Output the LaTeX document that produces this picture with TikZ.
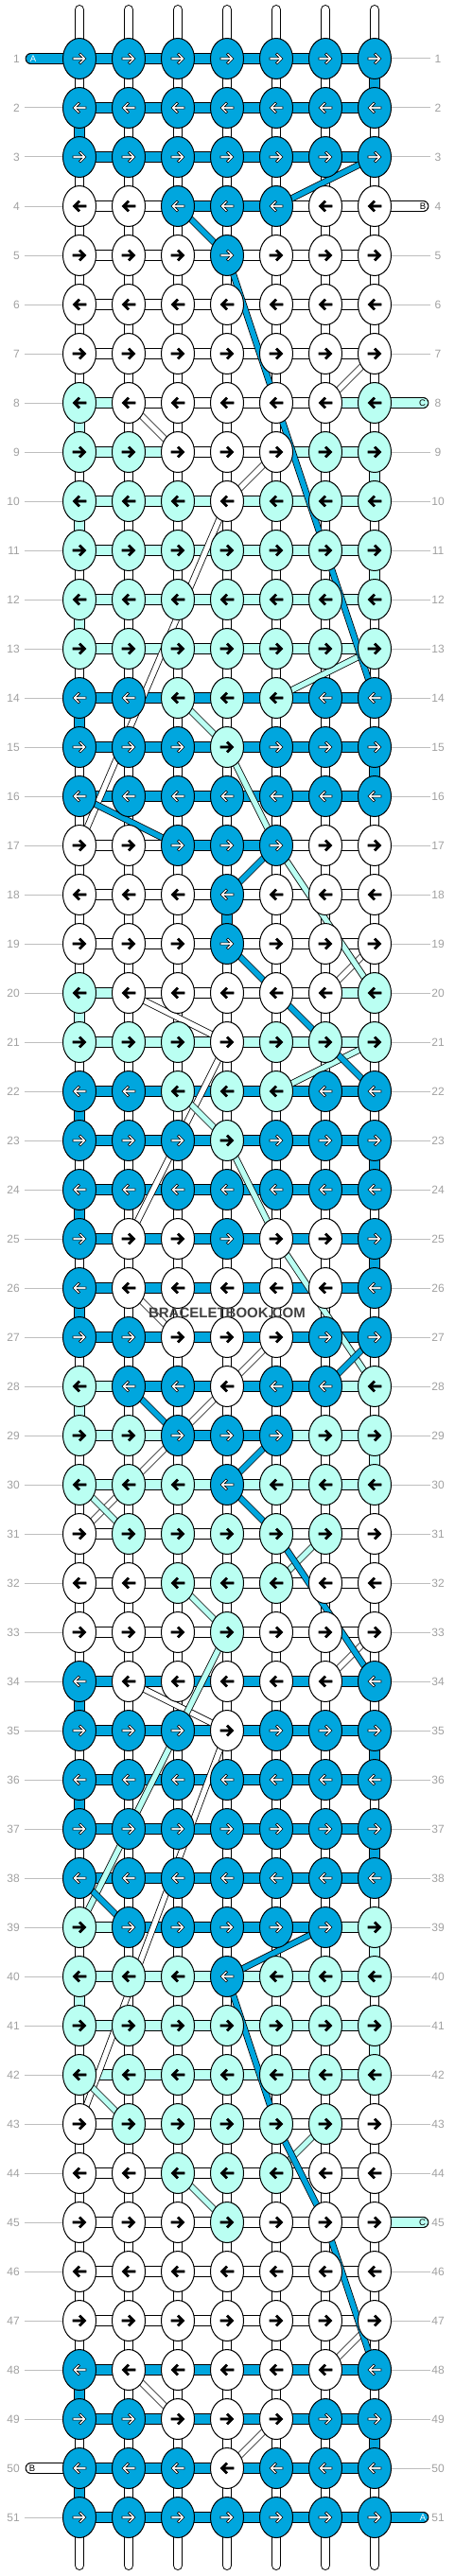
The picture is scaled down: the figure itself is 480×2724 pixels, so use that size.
\documentclass[tikz,border=0pt]{standalone}
\usepackage{fontspec}
\setmainfont{Liberation Sans}
\setsansfont{Liberation Sans}
\usetikzlibrary{shapes.geometric}
\usetikzlibrary{positioning}
\definecolor{colA}{RGB}{0,166,222}
\definecolor{colC}{RGB}{186,255,242}
\definecolor{rowgray}{RGB}{160,160,160}
\definecolor{guidegray}{RGB}{190,190,190}
\definecolor{groovegray}{RGB}{175,175,175}
\definecolor{markgray}{RGB}{64,64,64}
\pgfdeclarelayer{bg}
\pgfsetlayers{bg,main}
\newcommand\readknots[7]{\def\ka{#1}\def\kb{#2}\def\kc{#3}\def\kd{#4}\def\ke{#5}\def\kf{#6}\def\kg{#7}}
\newcommand\readcords[6]{\def\ha{#1}\def\hb{#2}\def\hc{#3}\def\hd{#4}\def\he{#5}\def\hf{#6}}
\tikzset{x=1pt, y=-1pt,
    knot/.style={
        ellipse,
        draw,
        line width=1pt,
        minimum width=35pt,
        minimum height=43pt,
        inner sep=0pt},
    cord/.style={
        draw=black,
        line width=1pt,
        double distance=9.7pt},
    carry/.style={
        draw=black,
        line width=0.8pt,
        double distance=5.4pt},
    bracestring/.style={
        draw=black,
        line width=1pt,
        double=white,
        double distance=8.7pt,
        line cap=round},
    groove/.style={
        draw=groovegray,
        line width=0.6pt,
        double=white,
        double distance=3.4pt},
    guide/.style={draw=guidegray, line width=1pt},
    rowno/.style={text=rowgray, font=\fontsize{12}{12}\selectfont, inner sep=0pt},
    tailtext/.style={font=\fontsize{9.5}{9.5}\selectfont, inner sep=0pt},
    pics/knotarrow/.style 2 args={code={
        \filldraw[fill=#1, draw=black, line width=0.6pt, xscale=#2]
            (-7,-1.1) -- (2.79,-1.1) -- (-0.56,-4.44) -- (1,-6) -- (7,0)
            -- (1,6) -- (-0.56,4.44) -- (2.79,1.1) -- (-7,1.1) -- cycle;}}}

% row / knot colours / cord colours
\def\rows{
 1/AAAAAAA/AAAAAA, 2/AAAAAAA/AAAAAA, 3/AAAAAAA/AAAAAA, 4/BBAAABB/BBAABB,
 5/BBBABBB/BBBBBB, 6/BBBBBBB/BBBBBB, 7/BBBBBBB/BBBBBB, 8/CBBBBBC/CBBBBC,
 9/CCBBBCC/CCBBCC, 10/CCCBCCC/CCCCCC, 11/CCCCCCC/CCCCCC, 12/CCCCCCC/CCCCCC,
 13/CCCCCCC/CCCCCC, 14/AACCCAA/AAAAAA, 15/AAACAAA/AAAAAA, 16/AAAAAAA/AAAAAA,
 17/BBAAABB/BBAABB, 18/BBBABBB/BBBBBB, 19/BBBABBB/BBBBBB, 20/CBBBBBC/CBBBBC,
 21/CCCBCCC/CCCCCC, 22/AACCCAA/AAAAAA, 23/AAACAAA/AAAAAA, 24/AAAAAAA/AAAAAA,
 25/ABBABBA/AAAAAA, 26/ABBBBBA/AAAAAA, 27/AABBBAA/AAAAAA, 28/CAABAAC/CAAAAC,
 29/CCAAACC/CCAACC, 30/CCCACCC/CCCCCC, 31/BCCCCCB/BBBBBB, 32/BBCCCBB/BBBBBB,
 33/BBBCBBB/BBBBBB, 34/ABBBBBA/AAAAAA, 35/AAABAAA/AAAAAA, 36/AAAAAAA/AAAAAA,
 37/AAAAAAA/AAAAAA, 38/AAAAAAA/AAAAAA, 39/CAAAAAC/CAAAAC, 40/CCCACCC/CCCCCC,
 41/CCCCCCC/CCCCCC, 42/CCCCCCC/CCCCCC, 43/BCCCCCB/BBBBBB, 44/BBCCCBB/BBBBBB,
 45/BBBCBBB/BBBBBB, 46/BBBBBBB/BBBBBB, 47/BBBBBBB/BBBBBB, 48/ABBBBBA/AAAAAA,
 49/AABBBAA/AAAAAA, 50/AAABAAA/AAAAAA, 51/AAAAAAA/AAAAAA}

\begin{document}
\begin{tikzpicture}
    \useasboundingbox (0,0) rectangle (480,2724);
    \coordinate (top) at (0,10.35);
    \coordinate (bottom) at (0,2712.65);
    \coordinate (gl) at (26,0);
    \coordinate (gr) at (454.5,0);

    % knots
    \foreach \r/\kn/\hz in \rows {
        \expandafter\readknots\kn
        \pgfmathsetmacro\dir{ifthenelse(mod(\r,2)==1,1,-1)}
        \foreach \c/\k in {1/\ka,2/\kb,3/\kc,4/\kd,5/\ke,6/\kf,7/\kg} {
            \if\k A\def\kfill{colA}\def\karr{white}\else
            \if\k B\def\kfill{white}\def\karr{black}\else
            \def\kfill{colC}\def\karr{black}\fi\fi
            \node[knot, fill=\kfill] (k\r-\c) at ({84+52*(\c-1)},{62+52*(\r-1)}) {};
            \pic at (k\r-\c) {knotarrow={\karr}{\dir}};
        }
    }

    \begin{pgfonlayer}{bg}
        \foreach \c in {1,...,7} {
            \draw[bracestring] (k1-\c |- top) -- (k51-\c |- bottom);
            \draw[groove] (k1-\c |- top) -- (k51-\c |- bottom);
        }
        \foreach \r/\c/\k in {1/7/A, 2/1/A, 8/1/C, 9/7/C, 10/1/C, 11/7/C, 12/1/C,
                14/1/A, 15/7/A, 18/4/A, 20/1/C, 22/1/A, 23/7/A, 24/1/A, 25/7/A,
                26/1/A, 28/1/C, 29/7/C, 34/1/A, 35/7/A, 36/1/A, 37/7/A, 39/7/C,
                40/1/C, 41/7/C, 48/1/A, 49/7/A, 50/1/A} {
            \pgfmathtruncatemacro\rn{\r+1}
            \if\k A\def\cfill{colA}\else\def\cfill{colC}\fi
            \draw[cord, double=\cfill] (k\r-\c.center) -- (k\rn-\c.center);
        }
        \foreach \r/\kn/\hz in \rows {
            \expandafter\readcords\hz
            \foreach \c/\h in {1/\ha,2/\hb,3/\hc,4/\hd,5/\he,6/\hf} {
                \pgfmathtruncatemacro\cn{\c+1}
                \if\h A\def\cfill{colA}\else
                \if\h B\def\cfill{white}\else\def\cfill{colC}\fi\fi
                \draw[cord, double=\cfill] (k\r-\c.center) -- (k\r-\cn.center);
            }
        }
        % carried strings
        \foreach \k/\p/\q in {B/7-7/8-6, B/8-2/9-3, B/9-5/10-4, B/10-4/17-1,
                B/19-7/20-6, B/20-2/21-4, B/21-4/25-2, B/26-2/27-3, B/27-5/28-4,
                B/28-4/31-1, B/33-7/34-6, B/34-2/35-4, B/35-4/43-1, B/47-7/48-6,
                B/48-2/49-3, B/49-5/50-4,
                C/13-7/14-5, C/14-3/15-4, C/15-4/17-5, C/17-5/20-7, C/21-7/22-5,
                C/22-3/23-4, C/23-4/25-5, C/25-5/28-7, C/30-1/31-2, C/31-6/32-5,
                C/32-3/33-4, C/33-4/39-1, C/42-1/43-2, C/43-6/44-5, C/44-3/45-4,
                A/3-7/4-5, A/4-3/5-4, A/5-4/8-5, A/8-5/11-6, A/11-6/14-7,
                A/16-1/17-3, A/17-5/18-4, A/19-4/22-7, A/27-7/28-6, A/28-2/29-3,
                A/29-5/30-4, A/30-4/31-5, A/31-5/34-7, A/38-1/39-2, A/39-6/40-4,
                A/40-4/43-5, A/43-5/45-6, A/45-6/48-7} {
            \if\k A\def\cfill{colA}\else
            \if\k B\def\cfill{white}\else\def\cfill{colC}\fi\fi
            \draw[carry, double=\cfill] (k\p.center) -- (k\q.center);
        }
        % loose ends
        \coordinate (endA1) at (32.5,62);
        \coordinate (endB4) at (447.5,218);
        \coordinate (endC8) at (447.5,426);
        \coordinate (endC45) at (447.5,2350);
        \coordinate (endB50) at (32.5,2610);
        \coordinate (endA51) at (447.5,2662);
        \draw[cord, double=colA, line cap=round] (k1-1.center) -- (endA1);
        \draw[cord, double=white, line cap=round] (k4-7.center) -- (endB4);
        \draw[cord, double=colC, line cap=round] (k8-7.center) -- (endC8);
        \draw[cord, double=colC, line cap=round] (k45-7.center) -- (endC45);
        \draw[cord, double=white, line cap=round] (k50-1.center) -- (endB50);
        \draw[cord, double=colA, line cap=round] (k51-7.center) -- (endA51);
    \end{pgfonlayer}

    \node[tailtext, text=white] (nameA1) at (35,62) {A};
    \node[tailtext] (nameB4) at (447,218) {B};
    \node[tailtext] (nameC8) at (446.5,426) {C};
    \node[tailtext] (nameC45) at (446.5,2350) {C};
    \node[tailtext] (nameB50) at (34,2610) {B};
    \node[tailtext, text=white] (nameA51) at (447,2662) {A};

    % row numbers
    \foreach \r in {1,...,51} {
        \node[rowno, anchor=east] (nl\r) at (21,{62+52*(\r-1)}) {\r};
        \node[rowno] (nr\r) at (463,{62+52*(\r-1)}) {\r};
        \ifnum\r=1 \else\ifnum\r=50 \else
            \draw[guide] (gl |- k\r-1.west) -- (k\r-1.west);
        \fi\fi
        \ifnum\r=4 \else\ifnum\r=8 \else\ifnum\r=45 \else\ifnum\r=51 \else
            \draw[guide] (k\r-7.east) -- (k\r-7.east -| gr);
        \fi\fi\fi\fi
    }

    \node[font=\bfseries\fontsize{15}{15}\selectfont, text=markgray] (brand) at (240,1388) {BRACELETBOOK.COM};
\end{tikzpicture}
\end{document}
